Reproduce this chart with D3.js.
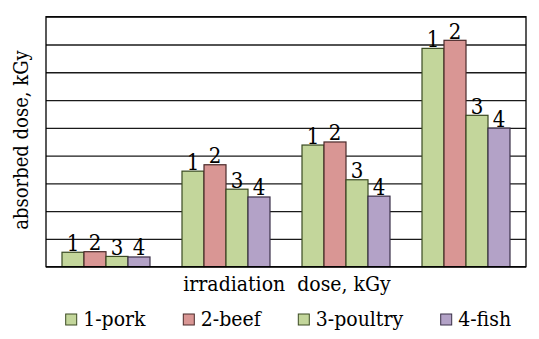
<!DOCTYPE html>
<html><head><meta charset="utf-8">
<script src="https://cdn.jsdelivr.net/npm/d3@7"></script>
<style>body{margin:0;background:#fff}svg{display:block}</style>
</head><body><svg id="c" width="539" height="339"></svg>
<script>
const groups = ["d1", "d2", "d3", "d4"];
const seriesNames = ["1-pork", "2-beef", "3-poultry", "4-fish"];
const seriesLabels = ["1", "2", "3", "4"];
const pork = [0.52, 3.44, 4.38, 7.86];
const beef = [0.54, 3.67, 4.49, 8.15];
const poultry = [0.37, 2.79, 3.13, 5.45];
const fish = [0.35, 2.51, 2.54, 4.99];
const yTicks = [0,1,2,3,4,5,6,7,8,9];
const colors = ["#c3d69b", "#d99694", "#c3d69b", "#b3a2c7"];
const strokes = ["#3a4a22", "#4a2a2a", "#3a4a22", "#3a3048"];
const series = [pork, beef, poultry, fish];
const FONT = "'DejaVu Serif Condensed', 'DejaVu Serif'";

const svg = d3.select("#c");
const L = 46, R = 526, T = 16.7, B = 266.7;
const x = d3.scaleBand().domain(groups).range([L, R]).paddingInner(0.2667).paddingOuter(0.1333);
const xs = d3.scaleBand().domain(d3.range(4)).range([0, x.bandwidth()]).padding(0);
const y = d3.scaleLinear().domain([0, 9]).range([B, T]);

function tx(sel, fs) { return sel.attr("font-family", FONT).attr("font-stretch", "condensed").attr("font-size", fs).attr("fill", "#000"); }

svg.append("g").attr("transform", `translate(${L},0)`)
  .call(d3.axisLeft(y).tickValues(yTicks).tickSize(-(R - L)).tickFormat(""))
  .call(g => g.select(".domain").remove())
  .call(g => g.selectAll("line").attr("stroke", "#1a1a1a").attr("stroke-width", 1.3));

const gg = svg.selectAll("g.grp").data(groups).join("g").attr("class", "grp")
  .attr("transform", d => `translate(${x(d)},0)`);
gg.each(function(gname, gi) {
  const g = d3.select(this);
  series.forEach((s, si) => {
    g.append("rect").attr("x", xs(si)).attr("width", xs.bandwidth())
      .attr("y", y(s[gi])).attr("height", y(0) - y(s[gi]))
      .attr("fill", colors[si]).attr("stroke", strokes[si]).attr("stroke-width", 1.2);
    tx(g.append("text"), 22).attr("x", xs(si) + xs.bandwidth() / 2).attr("y", y(s[gi]) - 1.5)
      .attr("text-anchor", "middle").text(seriesLabels[si]);
  });
});

svg.append("rect").attr("x", L).attr("y", T).attr("width", R - L).attr("height", B - T)
  .attr("fill", "none").attr("stroke", "#000").attr("stroke-width", 1.3);

tx(svg.append("text"), 21).attr("x", (L + R) / 2 + 1).attr("y", 291).attr("text-anchor", "middle")
  .style("white-space", "pre").text("irradiation  dose, kGy");

tx(svg.append("text"), 20).attr("transform", "translate(28,140) rotate(-90)").attr("text-anchor", "middle")
  .text("absorbed dose, kGy");

const legX = [65.7, 183.3, 298.3, 440.7];
const lg = svg.selectAll("g.leg").data(seriesNames).join("g").attr("class", "leg")
  .attr("transform", (d, i) => `translate(${legX[i]},314)`);
lg.append("rect").attr("width", 11).attr("height", 11)
  .attr("fill", (d, i) => colors[i]).attr("stroke", (d, i) => strokes[i]).attr("stroke-width", 1);
tx(lg.append("text"), 21).attr("x", 17.5).attr("y", 12).text(d => d);
</script></body></html>
